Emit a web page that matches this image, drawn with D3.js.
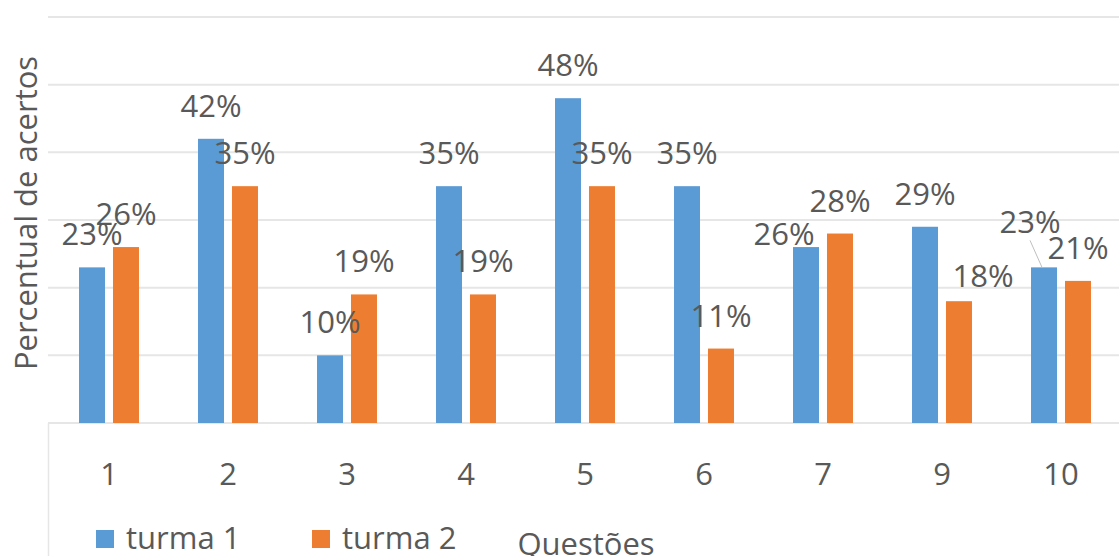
<!DOCTYPE html>
<html>
<head>
<meta charset="utf-8">
<script src="https://cdn.jsdelivr.net/npm/d3@7/dist/d3.min.js"></script>
<style>
  html, body { margin: 0; padding: 0; background: #ffffff; }
  svg { display: block; }
  text { font-family: "Open Sans", "Noto Sans", sans-serif; fill: #595959; }
</style>
</head>
<body>
<svg id="chart" width="1119" height="556"></svg>
<script>
// Questions answered and the share of correct answers per class (%)
const categories = ["1", "2", "3", "4", "5", "6", "7", "9", "10"];
const seriesNames = ["turma 1", "turma 2"];
const turma1 = [23, 42, 10, 35, 48, 35, 26, 29, 23];
const turma2 = [26, 35, 19, 19, 35, 11, 28, 18, 21];
const yTicks = [0, 10, 20, 30, 40, 50, 60];

const colors = { "turma 1": "#5b9bd5", "turma 2": "#ed7d31" };
const fontSize = "31px";

// Hand-placed label nudges (dx, dy in px) where labels were moved off their default spot
const labelNudge = {
  "turma 1|7": [-22, 20],
  "turma 2|9": [24, 8],
  "turma 1|10": [-14, -12]
};

const svg = d3.select("#chart");
const plot = { left: 49.5, right: 1120.5, top: 17, bottom: 423 };

const x0 = d3.scaleBand()
  .domain(categories)
  .range([plot.left, plot.right])
  .paddingInner(0.496)
  .paddingOuter(0.248);

const x1 = d3.scaleBand()
  .domain(seriesNames)
  .range([0, x0.bandwidth()])
  .paddingInner(0.235);

const y = d3.scaleLinear().domain([0, 60]).range([plot.bottom, plot.top]);

// Horizontal gridlines
svg.append("g")
  .selectAll("line")
  .data(yTicks)
  .join("line")
  .attr("x1", 48)
  .attr("x2", 1119)
  .attr("y1", d => y(d))
  .attr("y2", d => y(d))
  .attr("stroke", "#e6e6e6")
  .attr("stroke-width", 2);

// Frame under the category axis
svg.append("line")
  .attr("x1", 48.5).attr("x2", 48.5)
  .attr("y1", y(0)).attr("y2", 556)
  .attr("stroke", "#e6e6e6")
  .attr("stroke-width", 1.5);

const rows = categories.map((c, i) => ({
  cat: c,
  values: [
    { name: "turma 1", value: turma1[i] },
    { name: "turma 2", value: turma2[i] }
  ]
}));

const groups = svg.append("g")
  .selectAll("g")
  .data(rows)
  .join("g")
  .attr("transform", d => `translate(${x0(d.cat)},0)`);

groups.selectAll("rect")
  .data(d => d.values.map(v => ({ ...v, cat: d.cat })))
  .join("rect")
  .attr("x", d => x1(d.name))
  .attr("y", d => y(d.value))
  .attr("width", x1.bandwidth())
  .attr("height", d => y(0) - y(d.value))
  .attr("fill", d => colors[d.name]);

// Data labels
const labels = [];
rows.forEach(r => r.values.forEach(v => {
  const nudge = labelNudge[v.name + "|" + r.cat] || [0, 0];
  const cx = x0(r.cat) + x1(v.name) + x1.bandwidth() / 2;
  labels.push({ ...v, cat: r.cat, cx, top: y(v.value), dx: nudge[0], dy: nudge[1] });
}));

// Leader line for the label that sits away from its bar
labels.filter(d => d.name === "turma 1" && d.cat === "10").forEach(d => {
  svg.append("line")
    .attr("x1", d.cx + d.dx)
    .attr("y1", d.top - 22 + d.dy + 7)
    .attr("x2", d.cx - 2)
    .attr("y2", d.top)
    .attr("stroke", "#bfbfbf")
    .attr("stroke-width", 1);
});

svg.append("g")
  .selectAll("text")
  .data(labels)
  .join("text")
  .attr("x", d => d.cx + d.dx)
  .attr("y", d => d.top - 22 + d.dy)
  .attr("text-anchor", "middle")
  .style("font-size", fontSize)
  .text(d => d.value + "%");

// Category axis labels
const xAxis = d3.axisBottom(x0).tickSize(0).tickPadding(0);
const gx = svg.append("g")
  .attr("transform", `translate(0,${y(0)})`)
  .call(xAxis);
gx.select(".domain").remove();
gx.selectAll("text")
  .attr("y", 62)
  .attr("dy", null)
  .style("font-size", fontSize)
  .style("font-family", "'Open Sans', sans-serif")
  .attr("fill", "#595959");

// Y axis title
svg.append("text")
  .attr("transform", "translate(37,213) rotate(-90)")
  .attr("text-anchor", "middle")
  .style("font-size", fontSize)
  .text("Percentual de acertos");

// Legend
const legendX = [96, 312];
const legend = svg.append("g")
  .selectAll("g")
  .data(seriesNames)
  .join("g")
  .attr("transform", (d, i) => `translate(${legendX[i]},0)`);
legend.append("rect")
  .attr("x", 0).attr("y", 530)
  .attr("width", 18).attr("height", 18)
  .attr("fill", d => colors[d]);
legend.append("text")
  .attr("x", 30).attr("y", 549)
  .style("font-size", fontSize)
  .text(d => d);

// Category axis title
svg.append("text")
  .attr("x", 586).attr("y", 555)
  .attr("text-anchor", "middle")
  .style("font-size", fontSize)
  .text("Questões");
</script>
</body>
</html>
